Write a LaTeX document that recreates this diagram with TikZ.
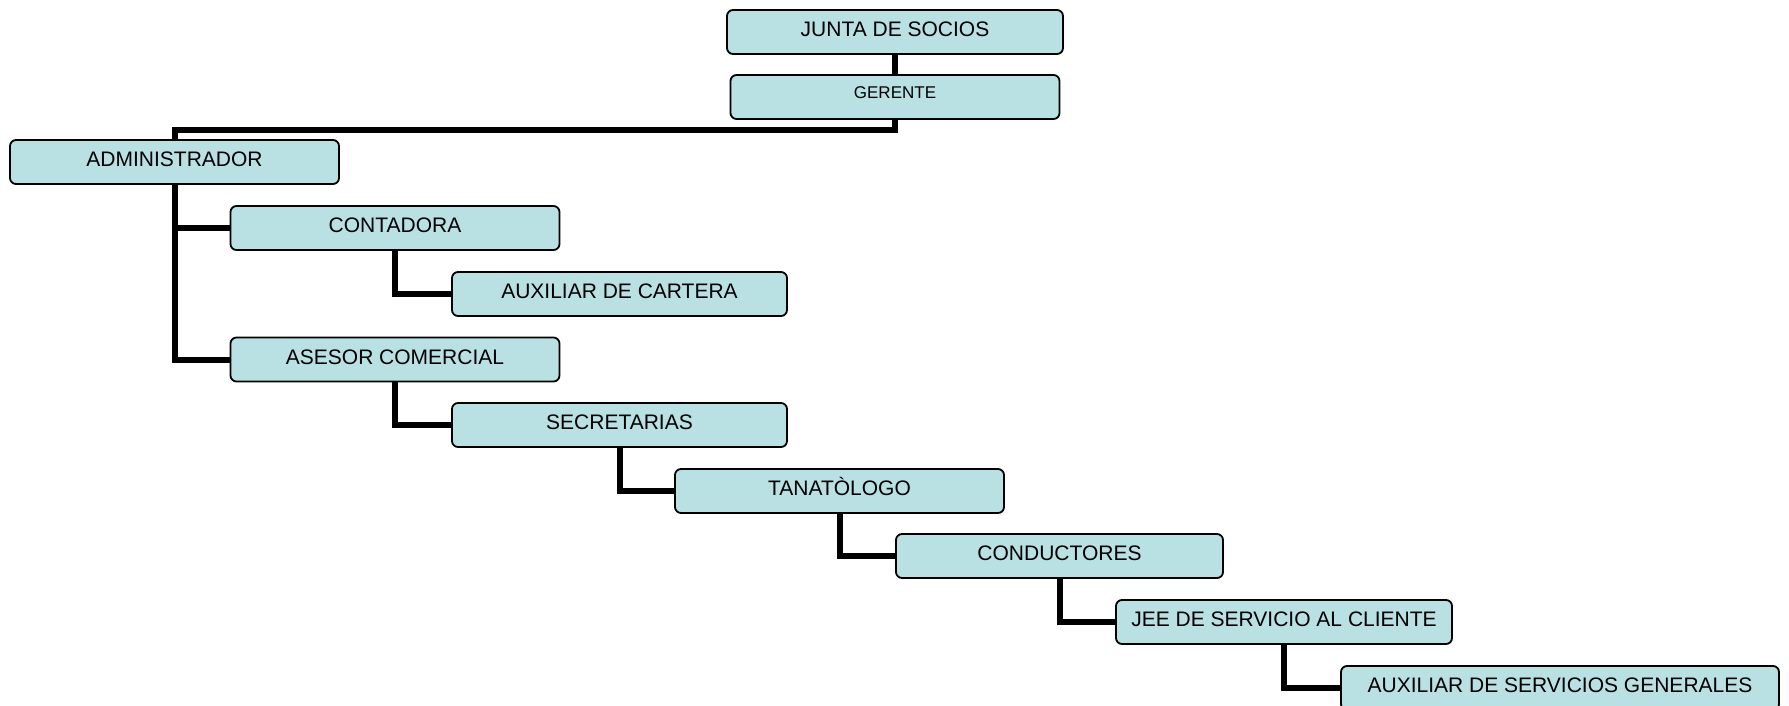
\documentclass[tikz,border=0pt]{standalone}
\usepackage{fontspec}
\setmainfont{Liberation Sans}
\definecolor{cargofill}{RGB}{185,224,227}
\tikzset{
	cargo/.style={draw=black, line width=1.8pt, rounded corners=6pt, fill=cargofill, inner sep=0pt, minimum height=44pt, text height=15pt, text depth=6pt, font=\fontsize{21}{25}\selectfont},
	enlace/.style={line width=6pt}
}
\begin{document}
\begin{tikzpicture}[x=1pt,y=-1pt]
		\useasboundingbox (0,0) rectangle (1789,705);
		\clip (0,0) rectangle (1789,705);
		\node[cargo, minimum width=336pt] (junta) at (895,32) {JUNTA DE SOCIOS};
		\node[cargo, minimum width=329pt, text height=12pt, text depth=10pt, font=\fontsize{17}{20}\selectfont] (gerente) at (895,97) {GERENTE};
		\node[cargo, minimum width=329pt] (admin) at (174.5,162) {ADMINISTRADOR};
		\node[cargo, minimum width=329pt] (contadora) at (395,228) {CONTADORA};
		\node[cargo, minimum width=335pt] (auxcartera) at (619.5,294) {AUXILIAR DE CARTERA};
		\node[cargo, minimum width=329pt] (asesor) at (395,359.5) {ASESOR COMERCIAL};
		\node[cargo, minimum width=335pt] (secretarias) at (619.5,425) {SECRETARIAS};
		\node[cargo, minimum width=329pt] (tanatologo) at (839.5,491) {TANATÒLOGO};
		\node[cargo, minimum width=327pt] (conductores) at (1059.5,556) {CONDUCTORES};
		\node[cargo, minimum width=336pt] (jee) at (1284,622) {JEE DE SERVICIO AL CLIENTE};
		\node[cargo, minimum width=438pt] (auxsg) at (1560,688) {AUXILIAR DE SERVICIOS GENERALES};
		\coordinate (codo) at (174.5,130);
		\draw[enlace] (junta.south) -- (gerente.north);
		\draw[enlace] (gerente.south) |- (codo) -- (admin.north);
		\draw[enlace] (admin.south) |- (contadora.west);
		\draw[enlace] (admin.south) |- (asesor.west);
		\foreach \jefe/\sub in {contadora/auxcartera, asesor/secretarias, secretarias/tanatologo, tanatologo/conductores, conductores/jee, jee/auxsg}
			\draw[enlace] (\jefe.south) |- (\sub.west);
	\end{tikzpicture}
\end{document}
